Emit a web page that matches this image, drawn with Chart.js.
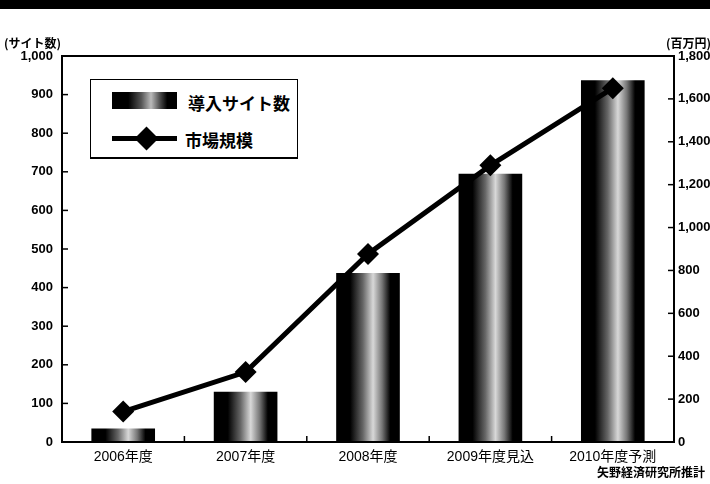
<!DOCTYPE html>
<html lang="ja">
<head>
<meta charset="UTF-8">
<title>導入サイト数と市場規模</title>
<script src="https://cdn.jsdelivr.net/npm/chart.js"></script>
<style>
    body { margin: 0; background: #fff; font-family: 'Liberation Sans', 'Noto Sans CJK JP', sans-serif; }
    .wrap { position: relative; width: 710px; height: 484px; overflow: hidden; }
    .topbar { position: absolute; left: 0; top: 0; width: 710px; height: 9px; background: #000; }
    .lbl { position: absolute; color: #000; white-space: nowrap; line-height: 1; }
    .legend { position: absolute; left: 90px; top: 79px; width: 206px; height: 77px; border: 1.5px solid #000; border-bottom-width: 2px; background: #fff; }
    .sw-bar { position: absolute; left: 21px; top: 12px; width: 65px; height: 17px;
        background: linear-gradient(to right, #000 0%, #000 25%, #555 45%, #bbb 60%, #444 75%, #000 85%, #000 100%); }
    .sw-line { position: absolute; left: 21px; top: 56px; width: 65px; height: 5px; background: #000; }
    .sw-dia { position: absolute; left: 47px; top: 50px; width: 17px; height: 17px; background: #000; transform: rotate(45deg); }
    .lg-text { position: absolute; font-family: 'Noto Sans CJK JP', sans-serif; font-size: 17px; font-weight: 700; }
    canvas { position: absolute; left: 0; top: 0; }
</style>
</head>
<body>
<div class="wrap">
    <canvas id="chart" width="710" height="484"></canvas>
    <div class="topbar"></div>
    <div class="lbl" style="left:4px; top:37px; font-size:12px; font-weight:700; font-family:'Noto Sans CJK JP',sans-serif;">(サイト数)</div>
    <div class="lbl" style="left:666px; top:37px; font-size:12px; font-weight:700; font-family:'Noto Sans CJK JP',sans-serif;">(百万円)</div>
    <div class="lbl" style="left:597px; top:466px; font-size:12px; font-weight:700; font-family:'Noto Sans CJK JP',sans-serif;">矢野経済研究所推計</div>
    <div class="legend">
        <div class="sw-bar"></div>
        <div class="lg-text" style="left:97px; top:10px;">導入サイト数</div>
        <div class="sw-line"></div>
        <div class="sw-dia"></div>
        <div class="lg-text" style="left:94px; top:47px;">市場規模</div>
    </div>
</div>

<script>
    // data
    const categories = ['2006年度', '2007年度', '2008年度', '2009年度見込', '2010年度予測'];
    const siteCounts = [35, 130, 438, 695, 937];        // 導入サイト数 (left axis)
    const marketSize = [142, 326, 877, 1290, 1650];     // 市場規模, 百万円 (right axis)

    const catPct = 0.52;

    function barGradient(context) {
        const chart = context.chart;
        const xs = chart.scales.x;
        if (!xs || context.dataIndex === undefined) return '#000';
        const cx = xs.getPixelForValue(context.dataIndex);
        const half = xs.width / categories.length * catPct / 2;
        if (!isFinite(cx) || !isFinite(half) || half <= 0) return '#000';
        const g = chart.ctx.createLinearGradient(cx - half, 0, cx + half, 0);
        g.addColorStop(0, '#000');
        g.addColorStop(0.22, '#000');
        g.addColorStop(0.42, '#666');
        g.addColorStop(0.58, '#d8d8d8');
        g.addColorStop(0.72, '#777');
        g.addColorStop(0.85, '#000');
        g.addColorStop(1, '#000');
        return g;
    }

    // frame + inward tick marks
    const decor = {
        id: 'decor',
        afterDraw(chart) {
            const { ctx, chartArea: a, scales } = chart;
            ctx.save();
            ctx.strokeStyle = '#000';
            ctx.lineWidth = 2;
            ctx.strokeRect(a.left, a.top, a.right - a.left, a.bottom - a.top);
            ctx.lineWidth = 1.5;
            scales.y.ticks.forEach(t => {
                const y = scales.y.getPixelForValue(t.value);
                ctx.beginPath(); ctx.moveTo(a.left, y); ctx.lineTo(a.left + 6, y); ctx.stroke();
            });
            scales.y1.ticks.forEach(t => {
                const y = scales.y1.getPixelForValue(t.value);
                ctx.beginPath(); ctx.moveTo(a.right - 6, y); ctx.lineTo(a.right, y); ctx.stroke();
            });
            for (let i = 0; i < categories.length - 1; i++) {
                const x = (scales.x.getPixelForValue(i) + scales.x.getPixelForValue(i + 1)) / 2;
                ctx.beginPath(); ctx.moveTo(x, a.bottom); ctx.lineTo(x, a.bottom - 6); ctx.stroke();
            }
            ctx.restore();
        }
    };

    const tickFont = { family: "'Liberation Sans', sans-serif", size: 13, weight: 'bold' };

    new Chart(document.getElementById('chart'), {
        data: {
            labels: categories,
            datasets: [
                {
                    type: 'line',
                    label: '市場規模',
                    data: marketSize,
                    yAxisID: 'y1',
                    borderColor: '#000',
                    backgroundColor: '#000',
                    borderWidth: 5,
                    pointStyle: 'rectRot',
                    pointRadius: 11,
                    pointBackgroundColor: '#000',
                    pointBorderWidth: 0,
                    tension: 0,
                    order: 0
                },
                {
                    type: 'bar',
                    label: '導入サイト数',
                    data: siteCounts,
                    yAxisID: 'y',
                    backgroundColor: barGradient,
                    borderWidth: 0,
                    barPercentage: 1,
                    categoryPercentage: catPct,
                    order: 1
                }
            ]
        },
        options: {
            responsive: false,
            animation: false,
            layout: { padding: { top: 56, left: 0, right: 0, bottom: 0 } },
            plugins: { legend: { display: false }, tooltip: { enabled: false }, title: { display: false } },
            scales: {
                x: {
                    offset: true,
                    grid: { display: false, drawTicks: false },
                    border: { display: true, color: '#000', width: 2 },
                    ticks: {
                        color: '#000',
                        padding: 7,
                        font: { family: "'Liberation Sans', 'Noto Sans CJK JP', sans-serif", size: 14 }
                    },
                    afterFit(s) { s.height = 42; }
                },
                y: {
                    position: 'left',
                    min: 0, max: 1000,
                    grid: { display: false, drawTicks: false },
                    border: { display: true, color: '#000', width: 2 },
                    ticks: { stepSize: 100, color: '#000', padding: 9, font: tickFont },
                    afterFit(s) { s.width = 62; }
                },
                y1: {
                    position: 'right',
                    min: 0, max: 1800,
                    grid: { display: false, drawTicks: false },
                    border: { display: true, color: '#000', width: 2 },
                    ticks: { stepSize: 200, color: '#000', padding: 4, font: tickFont },
                    afterFit(s) { s.width = 36; }
                }
            }
        },
        plugins: [decor]
    });
</script>
</body>
</html>
